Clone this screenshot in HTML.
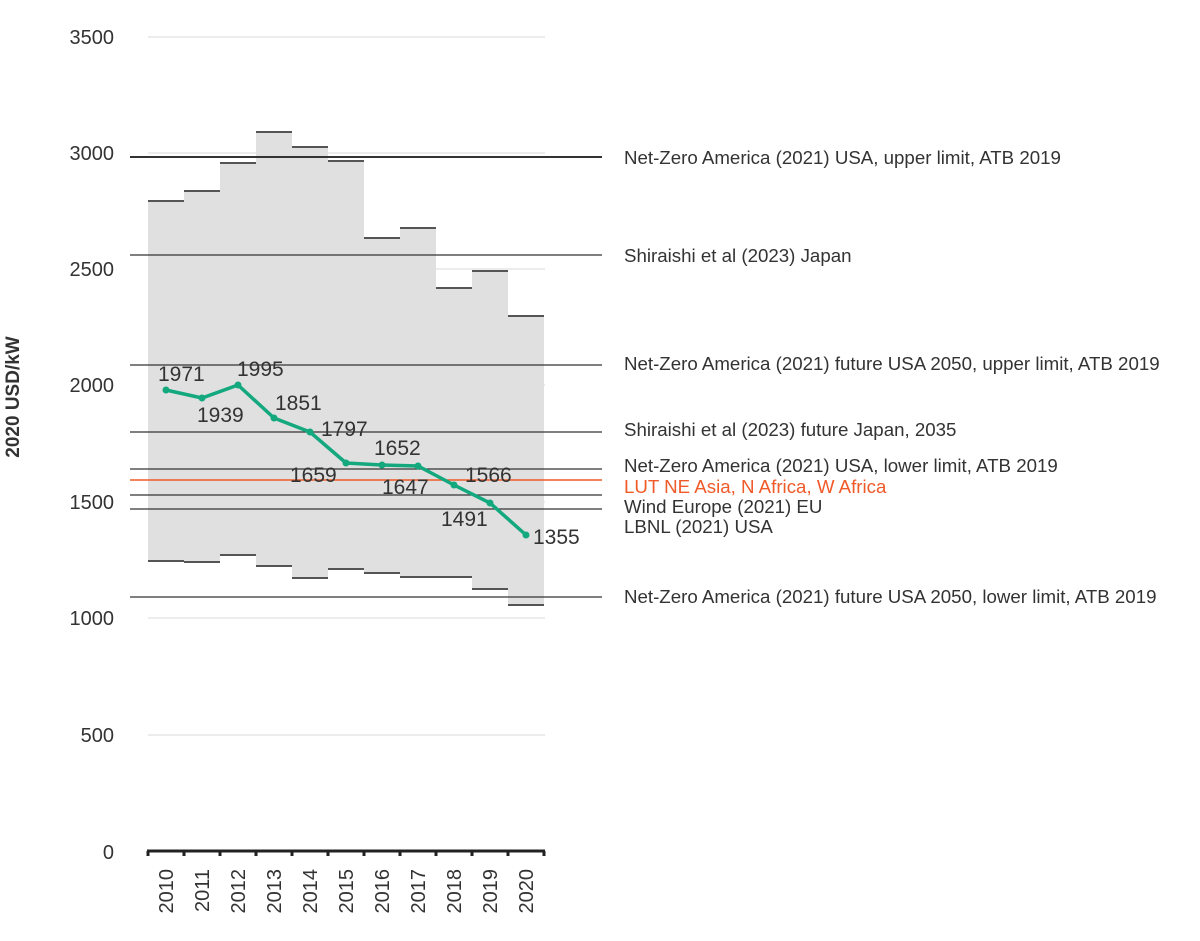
<!DOCTYPE html>
<html><head><meta charset="utf-8"><style>body{margin:0;background:#fff}svg{display:block}</style></head>
<body>
<svg width="1200" height="941" xmlns="http://www.w3.org/2000/svg" font-family="Liberation Sans, sans-serif">
<g stroke="#e6e6e6" stroke-width="1.5">
<line x1="148" x2="545" y1="37" y2="37"/><line x1="148" x2="545" y1="153" y2="153"/><line x1="148" x2="545" y1="269" y2="269"/><line x1="148" x2="545" y1="385" y2="385"/><line x1="148" x2="545" y1="502" y2="502"/><line x1="148" x2="545" y1="618" y2="618"/><line x1="148" x2="545" y1="735" y2="735"/>
</g>
<g font-size="20" fill="#333" text-anchor="end">
<text x="114" y="44">3500</text><text x="114" y="160">3000</text><text x="114" y="276">2500</text><text x="114" y="392">2000</text><text x="114" y="509">1500</text><text x="114" y="625">1000</text><text x="114" y="742">500</text><text x="114" y="859">0</text>
</g>
<text transform="translate(19,397) rotate(-90)" font-size="19" font-weight="bold" fill="#333" text-anchor="middle">2020 USD/kW</text>
<g fill="#e0e0e0" stroke="none">
<rect x="148" y="201" width="36" height="360"/><rect x="184" y="191" width="36" height="371"/><rect x="220" y="163" width="36" height="392"/><rect x="256" y="132" width="36" height="434"/><rect x="292" y="147" width="36" height="431"/><rect x="328" y="161" width="36" height="408"/><rect x="364" y="238" width="36" height="335"/><rect x="400" y="228" width="36" height="349"/><rect x="436" y="288" width="36" height="289"/><rect x="472" y="271" width="36" height="318"/><rect x="508" y="316" width="36" height="289"/>
</g>
<g stroke="#555" stroke-width="2">
<path d="M148 201h36M184 191h36M220 163h36M256 132h36M292 147h36M328 161h36M364 238h36M400 228h36M436 288h36M472 271h36M508 316h36"/>
<path d="M148 561h36M184 562h36M220 555h36M256 566h36M292 578h36M328 569h36M364 573h36M400 577h36M436 577h36M472 589h36M508 605h36"/>
</g>
<g stroke="#333" stroke-width="1.3">
<line x1="130" x2="602" y1="157" y2="157" stroke-width="2"/>
<line x1="130" x2="602" y1="255" y2="255"/><line x1="130" x2="602" y1="365" y2="365"/><line x1="130" x2="602" y1="432" y2="432"/><line x1="130" x2="602" y1="469" y2="469"/><line x1="130" x2="602" y1="495" y2="495"/><line x1="130" x2="602" y1="509" y2="509"/><line x1="130" x2="602" y1="597" y2="597"/>
</g>
<line x1="130" x2="602" y1="480" y2="480" stroke="#f05a28" stroke-width="1.5"/>
<g font-size="18.7" fill="#333">
<text x="624" y="164">Net-Zero America (2021) USA, upper limit, ATB 2019</text>
<text x="624" y="262">Shiraishi et al (2023) Japan</text>
<text x="624" y="370">Net-Zero America (2021) future USA 2050, upper limit, ATB 2019</text>
<text x="624" y="436">Shiraishi et al (2023) future Japan, 2035</text>
<text x="624" y="472">Net-Zero America (2021) USA, lower limit, ATB 2019</text>
<text x="624" y="493" fill="#f05a28">LUT NE Asia, N Africa, W Africa</text>
<text x="624" y="513">Wind Europe (2021) EU</text>
<text x="624" y="533">LBNL (2021) USA</text>
<text x="624" y="603">Net-Zero America (2021) future USA 2050, lower limit, ATB 2019</text>
</g>
<polyline fill="none" stroke="#14a87e" stroke-width="3.5" points="166,390 202,398 238,385 274,418 310,432 346,463 382,465 418,466 454,485 490,503 526,535"/>
<g fill="#14a87e"><circle cx="166" cy="390" r="3.5"/><circle cx="202" cy="398" r="3.5"/><circle cx="238" cy="385" r="3.5"/><circle cx="274" cy="418" r="3.5"/><circle cx="310" cy="432" r="3.5"/><circle cx="346" cy="463" r="3.5"/><circle cx="382" cy="465" r="3.5"/><circle cx="418" cy="466" r="3.5"/><circle cx="454" cy="485" r="3.5"/><circle cx="490" cy="503" r="3.5"/><circle cx="526" cy="535" r="3.5"/></g>
<g font-size="21" fill="#333">
<text x="158" y="381">1971</text><text x="197" y="422">1939</text><text x="237" y="376">1995</text><text x="275" y="410">1851</text><text x="321" y="436">1797</text><text x="290" y="482">1659</text><text x="374" y="455">1652</text><text x="382" y="494">1647</text><text x="465" y="482">1566</text><text x="441" y="526">1491</text><text x="533" y="544">1355</text>
</g>
<g stroke="#222" stroke-width="3"><line x1="147" x2="545" y1="851" y2="851"/></g>
<g stroke="#222" stroke-width="3"><path d="M148 851v5M184 851v5M220 851v5M256 851v5M292 851v5M328 851v5M364 851v5M400 851v5M436 851v5M472 851v5M508 851v5M544 851v5"/></g>
<g font-size="20" fill="#333" text-anchor="end">
<text transform="translate(173,869) rotate(-90)">2010</text><text transform="translate(209,869) rotate(-90)">2011</text><text transform="translate(245,869) rotate(-90)">2012</text><text transform="translate(281,869) rotate(-90)">2013</text><text transform="translate(317,869) rotate(-90)">2014</text><text transform="translate(353,869) rotate(-90)">2015</text><text transform="translate(389,869) rotate(-90)">2016</text><text transform="translate(425,869) rotate(-90)">2017</text><text transform="translate(461,869) rotate(-90)">2018</text><text transform="translate(497,869) rotate(-90)">2019</text><text transform="translate(533,869) rotate(-90)">2020</text>
</g>
</svg>
</body></html>
